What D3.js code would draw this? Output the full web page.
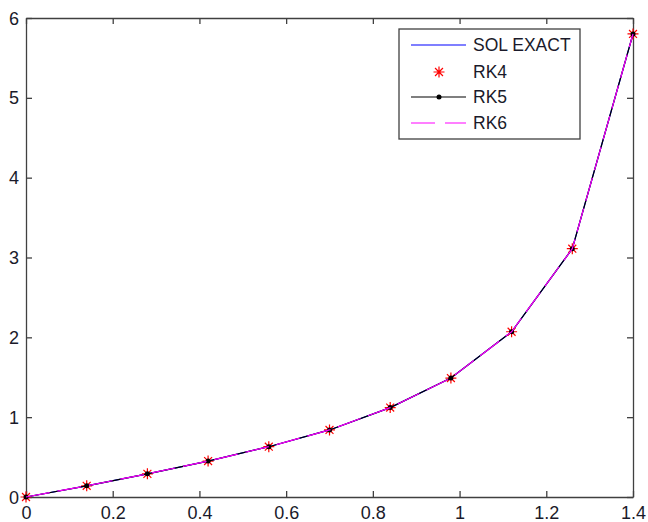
<!DOCTYPE html>
<meta charset="utf-8">
<style>
body { margin: 0; background: #fff; }
svg { font-family: "Liberation Sans", Arial, sans-serif; }
.axis path, .axis line { stroke: #404040; stroke-width: 1.3; fill: none; }
.axis text { font-size: 18px; fill: #1a1a2a; }
</style>
<body>
<script src="https://cdn.jsdelivr.net/npm/d3@7"></script>
<script>
// values
var xs = [0, 0.14, 0.28, 0.42, 0.56, 0.70, 0.84, 0.98, 1.12, 1.26, 1.40];
var solExact = [0, 0.14, 0.29, 0.45, 0.63, 0.84, 1.12, 1.49, 2.07, 3.11, 5.80];
var rk4 = [0, 0.14, 0.29, 0.45, 0.63, 0.84, 1.12, 1.49, 2.07, 3.11, 5.80];
var rk5 = [0, 0.14, 0.29, 0.45, 0.63, 0.84, 1.12, 1.49, 2.07, 3.11, 5.80];
var rk6 = [0, 0.14, 0.29, 0.45, 0.63, 0.84, 1.12, 1.49, 2.07, 3.11, 5.80];
var xTicks = [0, 0.2, 0.4, 0.6, 0.8, 1, 1.2, 1.4];
var yTicks = [0, 1, 2, 3, 4, 5, 6];
var legendNames = ["SOL EXACT", "RK4", "RK5", "RK6"];

var W = 648, H = 522;
var box = {left: 26, right: 633, top: 18, bottom: 497};

var svg = d3.select("body").append("svg")
  .attr("width", W).attr("height", H);

var x = d3.scaleLinear().domain([0, 1.4]).range([box.left, box.right]);
var y = d3.scaleLinear().domain([0, 6]).range([box.bottom, box.top]);

// axes, ticks pointing inward on all four sides
var bottomAxis = svg.append("g").attr("class", "axis")
  .attr("transform", "translate(0," + box.bottom + ")")
  .call(d3.axisBottom(x).tickValues(xTicks).tickSizeInner(-6).tickSizeOuter(0)
    .tickFormat(d3.format("")));
svg.append("g").attr("class", "axis")
  .attr("transform", "translate(0," + box.top + ")")
  .call(d3.axisTop(x).tickValues(xTicks).tickSizeInner(-6).tickSizeOuter(0).tickFormat(""));
svg.append("g").attr("class", "axis")
  .attr("transform", "translate(" + box.left + ",0)")
  .call(d3.axisLeft(y).tickValues(yTicks).tickSizeInner(-6).tickSizeOuter(0).tickPadding(7)
    .tickFormat(d3.format("d")));
svg.append("g").attr("class", "axis")
  .attr("transform", "translate(" + box.right + ",0)")
  .call(d3.axisRight(y).tickValues(yTicks).tickSizeInner(-6).tickSizeOuter(0).tickFormat(""));

svg.selectAll(".axis text").attr("dy", null).attr("dominant-baseline", "central");
bottomAxis.selectAll("text").attr("y", 16);

var line = d3.line().x(function(d, i) { return x(xs[i]); }).y(function(d) { return y(d); });

function star(cx, cy, r) {
  var a = r * 0.72;
  return "M" + (cx - r) + "," + cy + "H" + (cx + r) +
    "M" + cx + "," + (cy - r) + "V" + (cy + r) +
    "M" + (cx - a) + "," + (cy - a) + "L" + (cx + a) + "," + (cy + a) +
    "M" + (cx - a) + "," + (cy + a) + "L" + (cx + a) + "," + (cy - a);
}

// SOL EXACT
svg.append("path").attr("d", line(solExact))
  .attr("fill", "none").attr("stroke", "#0000ff").attr("stroke-width", 1.2);

// RK4 markers
svg.append("g").selectAll("path").data(rk4).enter().append("path")
  .attr("d", function(d, i) { return star(x(xs[i]), y(d), 5.5); })
  .attr("stroke", "#ff0000").attr("stroke-width", 1.2).attr("fill", "none");

// RK5 line with dots
svg.append("path").attr("d", line(rk5))
  .attr("fill", "none").attr("stroke", "#000").attr("stroke-width", 1.2);
svg.append("g").selectAll("circle").data(rk5).enter().append("circle")
  .attr("cx", function(d, i) { return x(xs[i]); })
  .attr("cy", function(d) { return y(d); })
  .attr("r", 2.5).attr("fill", "#000");

// RK6 dashed
svg.append("path").attr("d", line(rk6))
  .attr("fill", "none").attr("stroke", "#ff00ff").attr("stroke-width", 1.2)
  .attr("stroke-dasharray", "24,8");

// legend
var lg = svg.append("g");
lg.append("rect").attr("x", 399).attr("y", 29).attr("width", 181).attr("height", 110)
  .attr("fill", "#fff").attr("stroke", "#404040").attr("stroke-width", 1.3);
var rowY = [45, 72, 97, 123];
var lx0 = 411, lx1 = 466, lxm = 439;
lg.append("line").attr("x1", lx0).attr("x2", lx1).attr("y1", rowY[0]).attr("y2", rowY[0])
  .attr("stroke", "#0000ff").attr("stroke-width", 1.2);
lg.append("path").attr("d", star(lxm, rowY[1], 5.5)).attr("stroke", "#ff0000").attr("stroke-width", 1.2);
lg.append("line").attr("x1", lx0).attr("x2", lx1).attr("y1", rowY[2]).attr("y2", rowY[2])
  .attr("stroke", "#000").attr("stroke-width", 1.2);
lg.append("circle").attr("cx", lxm).attr("cy", rowY[2]).attr("r", 2.5).attr("fill", "#000");
lg.append("line").attr("x1", lx0).attr("x2", lx1).attr("y1", rowY[3]).attr("y2", rowY[3])
  .attr("stroke", "#ff00ff").attr("stroke-width", 1.2).attr("stroke-dasharray", "24,10");
lg.selectAll("text").data(legendNames).enter().append("text")
  .attr("x", 473).attr("y", function(d, i) { return rowY[i]; })
  .attr("dominant-baseline", "central")
  .attr("font-size", 17.5).attr("fill", "#1a1a2a")
  .text(function(d) { return d; });
</script>
